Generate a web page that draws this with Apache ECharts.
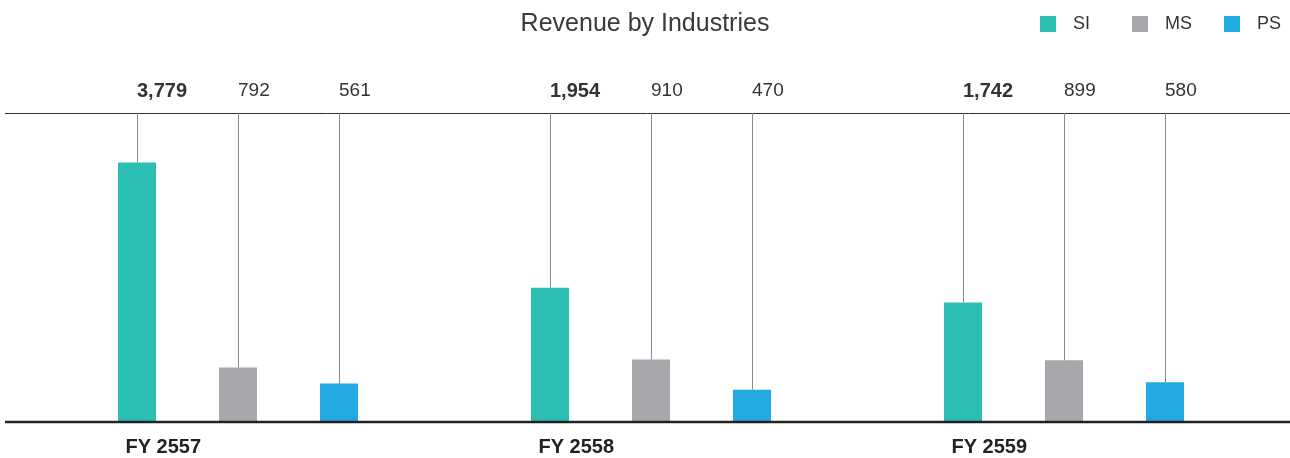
<!DOCTYPE html>
<html>
<head>
<meta charset="utf-8">
<style>
  html, body { margin: 0; padding: 0; background: #fff; }
  #chart { width: 1290px; height: 458px; }
</style>
<script src="https://cdn.jsdelivr.net/npm/echarts@6/dist/echarts.min.js"></script>
</head>
<body>
<div id="chart"></div>
<script>
// data
const categories = ['FY 2557', 'FY 2558', 'FY 2559']
const seriesNames = ['SI', 'MS', 'PS']
const siValues = [3779, 1954, 1742]
const msValues = [792, 910, 899]
const psValues = [561, 470, 580]
const yMax = 4500

const colors = ['#2bbfb3', '#a7a8ab', '#22a9e1']
const barWidth = 38
const barGap = 1.658
const fontFamily = '"Liberation Sans", Arial, sans-serif'

const chart = echarts.init(document.getElementById('chart'))

const allValues = [siValues, msValues, psValues]

// 柱子
const barSeries = allValues.map((vals, i) => ({
  name: seriesNames[i],
  type: 'bar',
  data: vals,
  barWidth: barWidth,
  barGap: (barGap * 100) + '%',
  itemStyle: { color: colors[i] },
  z: 3
}))

// 竖线 + 数值标签
const stemSeries = allValues.map((vals, i) => ({
  name: seriesNames[i],
  type: 'custom',
  data: vals.map((v, idx) => [idx, v]),
  z: 2,
  silent: true,
  renderItem: (params, api) => {
    const catIdx = api.value(0)
    const val = api.value(1)
    const offset = (i - 1) * barWidth * (1 + barGap)
    const p = api.coord([catIdx, val])
    const top = api.coord([catIdx, yMax])
    const x = Math.round(p[0] + offset) + 0.5
    const children = [
      {
        type: 'line',
        shape: { x1: x, y1: top[1], x2: x, y2: p[1] },
        style: { stroke: '#8a8a8a', lineWidth: 1 }
      },
      {
        type: 'text',
        x: x - 0.5,
        y: top[1] - 22,
        style: {
          text: echarts.format.addCommas(val),
          fill: '#333',
          font: (i === 0 ? 'bold 20px ' : '19px ') + fontFamily,
          align: 'left',
          verticalAlign: 'middle'
        }
      }
    ]
    if (i === 0) {
      const base = api.coord([catIdx, 0])
      children.push({
        type: 'text',
        x: x - 12,
        y: base[1] + 25,
        style: {
          text: categories[catIdx],
          fill: '#222',
          font: 'bold 20px ' + fontFamily,
          align: 'left',
          verticalAlign: 'middle'
        }
      })
    }
    return { type: 'group', children }
  }
}))

const option = {
  animation: false,
  title: {
    text: 'Revenue by Industries',
    left: 'center',
    top: 7,
    textStyle: {
      fontFamily: fontFamily,
      fontSize: 25,
      fontWeight: 'normal',
      color: '#3a3a3a'
    }
  },
  legend: {
    data: seriesNames,
    right: 4,
    top: 10,
    icon: 'rect',
    itemWidth: 16,
    itemHeight: 16,
    itemGap: 32,
    // SI 文字较窄，补两个空格让间距一致
    formatter: name => (name === 'SI' ? name + '  ' : name),
    textStyle: {
      fontFamily: fontFamily,
      fontSize: 18,
      color: '#333',
      padding: [0, 0, 0, 12]
    }
  },
  grid: {
    left: 31.5,
    right: 19.5,
    top: 113,
    bottom: 36
  },
  xAxis: {
    type: 'category',
    data: categories,
    axisLine: { show: false },
    axisTick: { show: false },
    axisLabel: { show: false }
  },
  yAxis: {
    type: 'value',
    min: 0,
    max: yMax,
    show: false,
    splitLine: { show: false }
  },
  graphic: [
    {
      type: 'line',
      shape: { x1: 5, y1: 113.5, x2: 1290, y2: 113.5 },
      style: { stroke: '#333', lineWidth: 1 },
      z: 1
    },
    {
      type: 'line',
      shape: { x1: 5, y1: 422, x2: 1290, y2: 422 },
      style: { stroke: '#222', lineWidth: 2.5 },
      z: 10
    }
  ],
  series: [...barSeries, ...stemSeries]
}

chart.setOption(option)
window.addEventListener('resize', () => chart.resize())
</script>
</body>
</html>
